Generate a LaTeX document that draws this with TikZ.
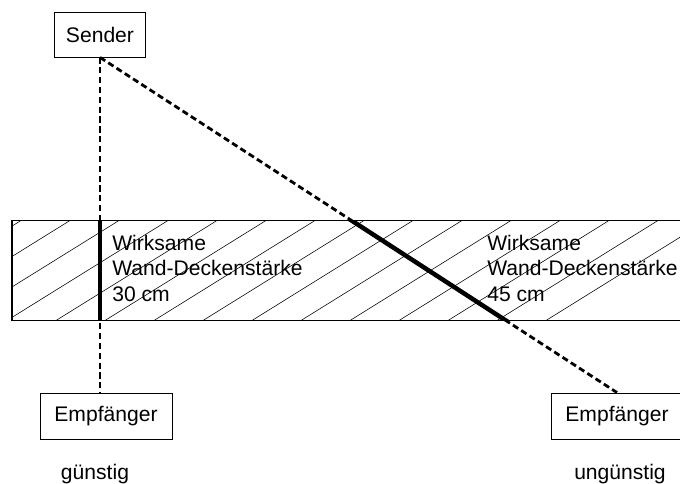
\documentclass[tikz,border=0pt]{standalone}
\usepackage{fontspec}
\setmainfont{Liberation Sans}
\tikzset{
    box/.style={draw, line width=0.6pt, inner sep=0pt, font=\fontsize{15}{18}\selectfont},
    label/.style={inner sep=0pt, align=left, font=\fontsize{15}{18}\selectfont},
    signal/.style={line width=2pt, dash pattern=on 4.4pt off 2.6pt},
    hatch/.style={line width=0.4pt},
}
\begin{document}
\begin{tikzpicture}[x=0.025cm, y=-0.025cm]
    \useasboundingbox (0,0) rectangle (680,484);
    \clip (0,0) rectangle (680,484);

    % Sender and receivers
    \node[box, minimum width=2.275cm, minimum height=1.125cm] (sender) at (100, 34.5) {Sender};
    \node[box, minimum width=3.3cm, minimum height=1.15cm] (empfL) at (106, 416) {Empf\"anger};
    \node[box, minimum width=3.3cm, minimum height=1.15cm] (empfR) at (617, 416) {Empf\"anger};

    % Wall / ceiling
    \coordinate (wallNW) at (12, 220.5);
    \coordinate (wallSE) at (700, 320.5);
    \begin{scope}
        \clip (wallNW) rectangle (wallSE);
        \foreach \k in {-4,...,13}
            \draw[hatch] ({70+49*\k}, 220.5) -- ++(-161, 100);
    \end{scope}
    \draw[line width=0.8pt] (wallNW) rectangle (wallSE);

    % Signal paths
    \draw[signal] (sender.south) -- (sender.south |- empfL.north);
    \draw[signal] (sender.south) -- (empfR.north);

    % Effective thickness
    \begin{scope}
        \clip (wallNW) rectangle (wallSE);
        \draw[line width=3.2pt] (sender.south) -- (sender.south |- empfL.north);
        \draw[line width=3.2pt] (sender.south) -- (empfR.north);
    \end{scope}

    \node[label, anchor=north west] (dickeL) at (112, 235) {Wirksame\\Wand-Deckenst\"arke\\30 cm};
    \node[label, anchor=north west] (dickeR) at (487, 235) {Wirksame\\Wand-Deckenst\"arke\\45 cm};

    \node[label, anchor=base] (guenstig) at (95, 480) {g\"unstig};
    \node[label, anchor=base] (unguenstig) at (620, 480) {ung\"unstig};
\end{tikzpicture}
\end{document}
